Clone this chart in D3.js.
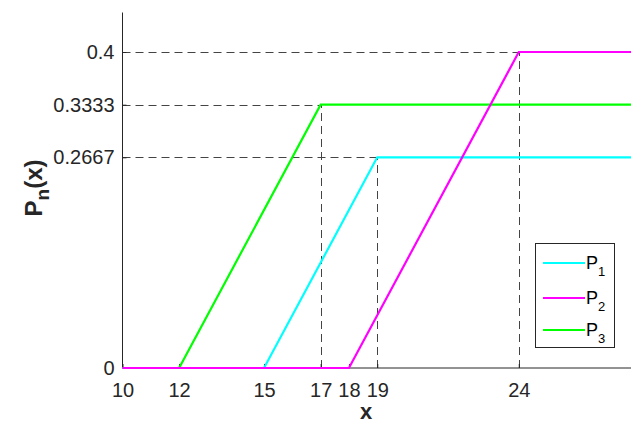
<!DOCTYPE html>
<html><head><meta charset="utf-8">
<script src="https://cdn.jsdelivr.net/npm/d3@7"></script>
<style>body{margin:0;background:#fff}svg{display:block}</style>
</head><body>
<script>
const seriesNames = ["P1","P2","P3"];
const seriesColors = ["#00ffff","#ff00ff","#00ff00"];
const P1x = [10,15,19,28], P1y = [0,0,0.2667,0.2667];
const P2x = [10,18,24,28], P2y = [0,0,0.4,0.4];
const P3x = [12,17,28],    P3y = [0,0.3333,0.3333];
const xTicks = [10,12,15,17,18,19,24];
const yTicks = [0,0.2667,0.3333,0.4];
const yTickLabels = ["0","0.2667","0.3333","0.4"];
const guides = [[17,0.3333],[19,0.2667],[24,0.4]];

const W=631,H=425;
const svg=d3.select("body").append("svg").attr("width",W).attr("height",H);
const x=d3.scaleLinear().domain([10,28]).range([122.5,632]);
const y=d3.scaleLinear().domain([0,0.45]).range([368,12.5]);
const font="'Liberation Sans', Arial, sans-serif";
const tc="#262626";

// guides
const g=svg.append("g");
guides.forEach(([gx,gy])=>{
  g.append("line").attr("x1",x(10)).attr("x2",x(gx)).attr("y1",Math.round(y(gy))+0.5).attr("y2",Math.round(y(gy))+0.5)
   .attr("stroke","#444").attr("stroke-width",1).attr("stroke-dasharray","8,5");
  g.append("line").attr("x1",Math.round(x(gx))+0.5).attr("x2",Math.round(x(gx))+0.5).attr("y1",y(0)).attr("y2",y(gy))
   .attr("stroke","#444").attr("stroke-width",1).attr("stroke-dasharray","8,5");
});

// axes
const xa=svg.append("g").attr("transform",`translate(0,${y(0)})`)
  .call(d3.axisBottom(x).tickValues(xTicks).tickSize(-4).tickPadding(15).tickFormat(d3.format("d")));
const ya=svg.append("g").attr("transform",`translate(${x(10)},0)`)
  .call(d3.axisLeft(y).tickValues(yTicks).tickSize(-4).tickPadding(8).tickFormat((d,i)=>yTickLabels[i]));
[xa,ya].forEach(a=>{
  a.select(".domain").attr("stroke",tc).attr("stroke-width",1);
  a.selectAll(".tick line").attr("stroke",tc);
  a.selectAll("text").attr("font-family",font).attr("font-size",20).attr("fill",tc);
});
ya.select(".domain").attr("d",`M0,${y(0.45)}V${y(0)}`);
xa.select(".domain").attr("d",`M${x(10)},0H${W}`);

// lines
const line=d3.line().x(d=>x(d[0])).y(d=>y(d[1]));
const data=[[P1x,P1y],[P2x,P2y],[P3x,P3y]].map(([a,b])=>a.map((v,i)=>[v,b[i]]));
[0,2,1].forEach(i=>{
  svg.append("path").datum(data[i]).attr("d",line).attr("fill","none")
    .attr("stroke",seriesColors[i]).attr("stroke-width",2.2);
});

// labels
svg.append("text").attr("x",366).attr("y",419).attr("text-anchor","middle")
  .attr("font-family",font).attr("font-size",22).attr("font-weight","bold").attr("fill",tc).text("x");
const yl=svg.append("text").attr("transform","translate(42,188) rotate(-90)").attr("text-anchor","middle")
  .attr("font-family",font).attr("font-size",24).attr("font-weight","bold").attr("fill",tc);
yl.append("tspan").text("P");
yl.append("tspan").attr("dy",7).attr("font-size",19).text("n");
yl.append("tspan").attr("dy",-7).text("(x)");

// legend
const lg=svg.append("g");
lg.append("rect").attr("x",535.5).attr("y",243.5).attr("width",79).attr("height",104)
  .attr("fill","#fff").attr("stroke",tc).attr("stroke-width",1);
seriesNames.forEach((n,i)=>{
  const ly=[263,298,330][i];
  lg.append("line").attr("x1",543).attr("x2",585).attr("y1",ly).attr("y2",ly)
    .attr("stroke",seriesColors[i]).attr("stroke-width",2);
  const t=lg.append("text").attr("x",586).attr("y",ly+6).attr("font-family",font).attr("font-size",18).attr("fill","#000");
  t.append("tspan").text(n[0]);
  t.append("tspan").attr("dy",7).attr("font-size",13).text(n.slice(1));
});
</script>
</body></html>
